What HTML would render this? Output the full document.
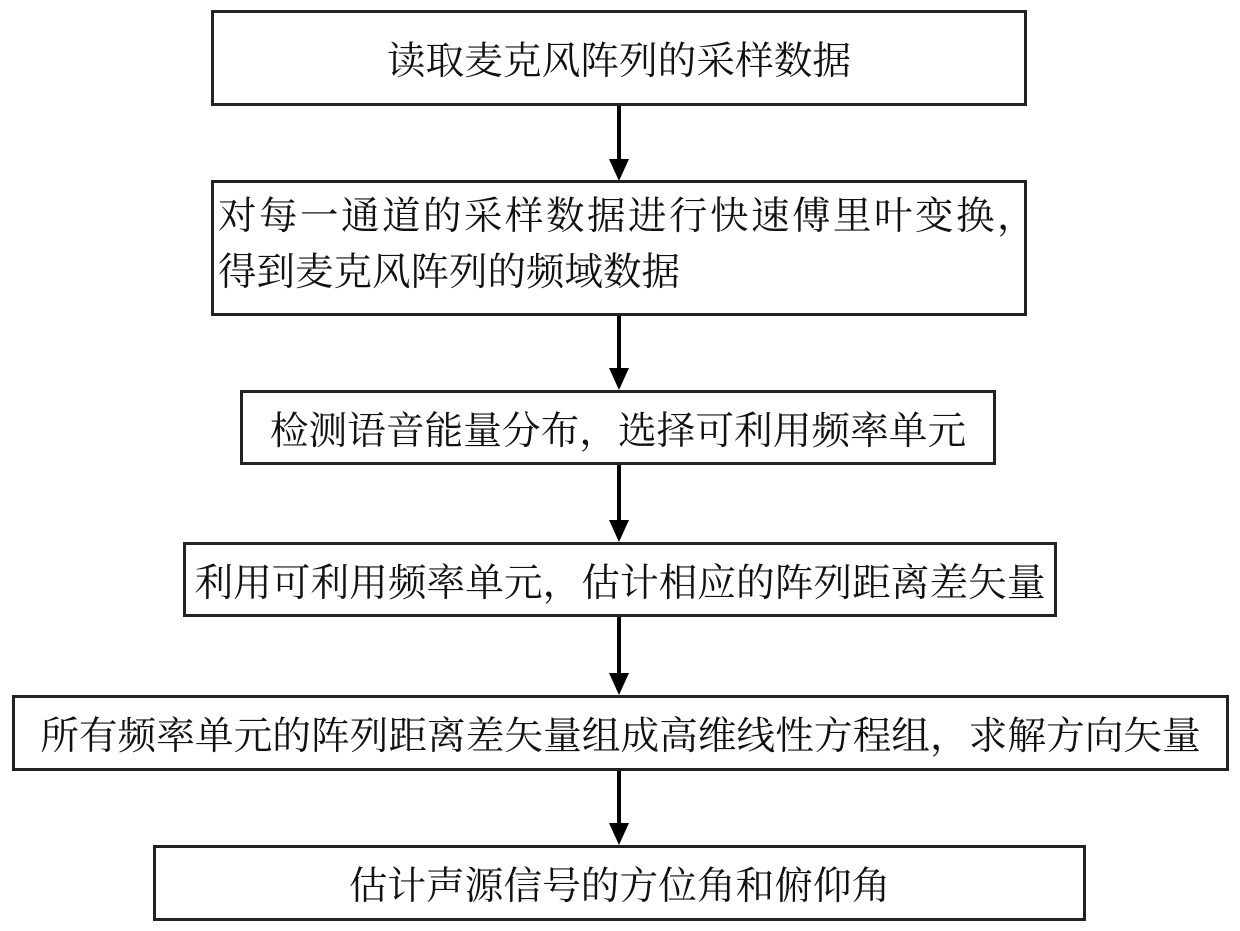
<!DOCTYPE html>
<html><head><meta charset="utf-8"><style>
body{margin:0;width:1240px;height:931px;background:#fff;position:relative;overflow:hidden;font-family:"Liberation Serif","Noto Serif CJK SC","Noto Sans CJK SC",serif;color:#111}
.b{position:absolute;border:3px solid #222;box-sizing:border-box;display:flex;align-items:center;justify-content:center;white-space:nowrap;font-size:38.7px}
.a{position:absolute;left:617px;width:4px;background:#000}
.h{position:absolute;left:609px;width:0;height:0;border-left:10px solid transparent;border-right:10px solid transparent;border-top:22px solid #000}
</style></head><body>
<div class="b" style="left:211px;top:10px;width:816px;height:96px">读取麦克风阵列的采样数据</div>
<div class="a" style="top:106px;height:55px"></div><div class="h" style="top:159px"></div>
<div class="b" style="left:211px;top:180px;width:816px;height:136px;font-size:38.5px;display:block;padding:6px 0 0 4px;line-height:56px;text-align:left"><span style="letter-spacing:2.5px">对每一通道的采样数据进行快速傅里叶变换，</span><br>得到麦克风阵列的频域数据</div>
<div class="a" style="top:316px;height:52px"></div><div class="h" style="top:368px"></div>
<div class="b" style="left:240px;top:390px;width:756px;height:75px">检测语音能量分布，选择可利用频率单元</div>
<div class="a" style="top:465px;height:56px"></div><div class="h" style="top:520px"></div>
<div class="b" style="left:183px;top:542px;width:874px;height:75px">利用可利用频率单元，估计相应的阵列距离差矢量</div>
<div class="a" style="top:617px;height:56px"></div><div class="h" style="top:673px"></div>
<div class="b" style="left:12px;top:695px;width:1217px;height:76px">所有频率单元的阵列距离差矢量组成高维线性方程组，求解方向矢量</div>
<div class="a" style="top:771px;height:53px"></div><div class="h" style="top:823px"></div>
<div class="b" style="left:153px;top:845px;width:933px;height:76px">估计声源信号的方位角和俯仰角</div>
</body></html>
